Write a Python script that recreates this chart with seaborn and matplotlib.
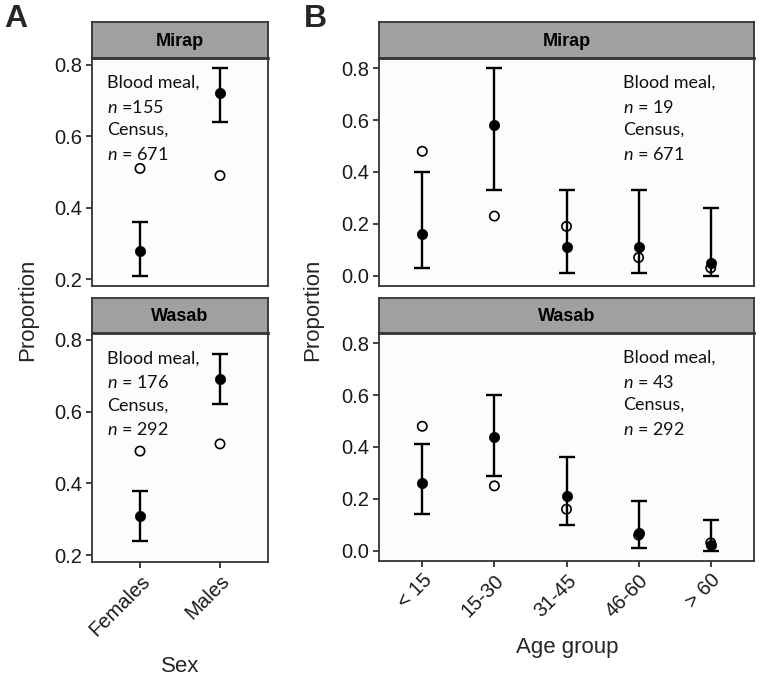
import numpy as np
import pandas as pd
import matplotlib
matplotlib.use('Agg')
import matplotlib.pyplot as plt
import seaborn as sns

# Panel A: sex
sex_labels = ['Females', 'Males']
mirap_sex_blood = [0.28, 0.72]
mirap_sex_lo = [0.21, 0.64]
mirap_sex_hi = [0.36, 0.79]
mirap_sex_census = [0.51, 0.49]
wasab_sex_blood = [0.31, 0.69]
wasab_sex_lo = [0.24, 0.62]
wasab_sex_hi = [0.38, 0.76]
wasab_sex_census = [0.49, 0.51]

# Panel B: age group
age_labels = ['< 15', '15-30', '31-45', '46-60', '> 60']
mirap_age_blood = [0.16, 0.58, 0.11, 0.11, 0.05]
mirap_age_lo = [0.03, 0.33, 0.01, 0.01, 0.00]
mirap_age_hi = [0.40, 0.80, 0.33, 0.33, 0.26]
mirap_age_census = [0.48, 0.23, 0.19, 0.07, 0.03]
wasab_age_blood = [0.26, 0.44, 0.21, 0.07, 0.02]
wasab_age_lo = [0.14, 0.29, 0.10, 0.01, 0.00]
wasab_age_hi = [0.41, 0.60, 0.36, 0.19, 0.12]
wasab_age_census = [0.48, 0.25, 0.16, 0.06, 0.03]

notes = {
    ('A', 'Mirap'): ['Blood meal,', r'$\it{n}$ =155', 'Census,', r'$\it{n}$ = 671'],
    ('A', 'Wasab'): ['Blood meal,', r'$\it{n}$ = 176', 'Census,', r'$\it{n}$ = 292'],
    ('B', 'Mirap'): ['Blood meal,', r'$\it{n}$ = 19', 'Census,', r'$\it{n}$ = 671'],
    ('B', 'Wasab'): ['Blood meal,', r'$\it{n}$ = 43', 'Census,', r'$\it{n}$ = 292'],
}

sns.set_style('white')
plt.rcParams['font.family'] = ['Liberation Sans', 'DejaVu Sans']
plt.rcParams['mathtext.fontset'] = 'custom'
plt.rcParams['mathtext.it'] = 'Lato:italic'
plt.rcParams['mathtext.rm'] = 'Lato'

W, H = 760, 681
fig = plt.figure(figsize=(W / 100, H / 100), dpi=100)
fig.patch.set_facecolor('white')


def rect(l, t, r, b):
    return [l / W, 1 - b / H, (r - l) / W, (b - t) / H]


def make_df(labels, blood, lo, hi, census):
    return pd.DataFrame({'x': np.arange(len(labels)), 'blood': blood,
                         'lo': lo, 'hi': hi, 'census': census})


dark = '#333333'


def draw_panel(df, plot_box, strip_box, title, ylim, yticks, labels, show_x, note, note_x):
    ax = fig.add_axes(rect(*plot_box))
    ax.set_facecolor('#fcfcfc')
    n = len(df)
    ax.errorbar(df['x'], df['blood'], yerr=[df['blood'] - df['lo'], df['hi'] - df['blood']],
                fmt='none', ecolor='black', elinewidth=1.7, capsize=5.5, capthick=1.7, zorder=2)
    sns.scatterplot(data=df, x='x', y='blood', ax=ax, color='black', s=55,
                    edgecolor='black', linewidth=0.5, zorder=3, legend=False)
    sns.scatterplot(data=df, x='x', y='census', ax=ax, facecolor='none', s=45,
                    edgecolor='black', linewidth=1.2, zorder=4, legend=False)
    ax.set_xlim(-0.6, n - 1 + 0.6)
    ax.set_ylim(*ylim)
    ax.set_yticks(yticks)
    ax.set_yticklabels([f'{t:.1f}' for t in yticks], fontsize=14.5, color='#1a1a1a')
    ax.set_xticks(df['x'])
    if show_x:
        ax.set_xticklabels(labels, rotation=45, ha='right', rotation_mode='anchor',
                           fontsize=14.5, color='#1a1a1a')
    else:
        ax.set_xticklabels([])
        ax.tick_params(axis='x', length=0)
    ax.tick_params(axis='both', direction='out', length=4, width=1.3, color=dark, pad=3)
    ax.tick_params(axis='y', left=True)
    ax.tick_params(axis='x', bottom=show_x)
    ax.set_xlabel('')
    ax.set_ylabel('')
    for sp in ax.spines.values():
        sp.set_color(dark)
        sp.set_linewidth(1.3)
    for i, line in enumerate(note):
        ax.text(note_x, 0.925 - i * 0.103, line, transform=ax.transAxes,
                fontsize=13, family='Lato', va='top', ha='left', color='#111111')

    sax = fig.add_axes(rect(*strip_box))
    sax.set_facecolor('#a0a0a0')
    sax.set_xticks([])
    sax.set_yticks([])
    for sp in sax.spines.values():
        sp.set_color(dark)
        sp.set_linewidth(1.3)
    sax.spines['bottom'].set_linewidth(2.0)
    sax.text(0.5, 0.47, title, transform=sax.transAxes, ha='center', va='center',
             fontsize=13, fontweight='bold', color='black')
    return ax


ylim_a = (0.181, 0.819)
yt_a = [0.2, 0.4, 0.6, 0.8]
ylim_b = (-0.04, 0.84)
yt_b = [0.0, 0.2, 0.4, 0.6, 0.8]

draw_panel(make_df(sex_labels, mirap_sex_blood, mirap_sex_lo, mirap_sex_hi, mirap_sex_census),
           (92, 58, 268, 286), (92, 22, 268, 58), 'Mirap', ylim_a, yt_a, sex_labels,
           False, notes[('A', 'Mirap')], 0.085)
draw_panel(make_df(sex_labels, wasab_sex_blood, wasab_sex_lo, wasab_sex_hi, wasab_sex_census),
           (92, 333, 268, 562), (92, 298, 268, 333), 'Wasab', ylim_a, yt_a, sex_labels,
           True, notes[('A', 'Wasab')], 0.085)
draw_panel(make_df(age_labels, mirap_age_blood, mirap_age_lo, mirap_age_hi, mirap_age_census),
           (379, 58, 754, 286), (379, 22, 754, 58), 'Mirap', ylim_b, yt_b, age_labels,
           False, notes[('B', 'Mirap')], 0.65)
draw_panel(make_df(age_labels, wasab_age_blood, wasab_age_lo, wasab_age_hi, wasab_age_census),
           (379, 333, 754, 561), (379, 298, 754, 333), 'Wasab', ylim_b, yt_b, age_labels,
           True, notes[('B', 'Wasab')], 0.65)

# axis titles and panel letters
fig.text(28 / W, 1 - 310 / H, 'Proportion', rotation=90, ha='center', va='center', fontsize=16)
fig.text(313 / W, 1 - 310 / H, 'Proportion', rotation=90, ha='center', va='center', fontsize=16)
fig.text(180 / W, 1 - 667 / H, 'Sex', ha='center', va='center', fontsize=16)
fig.text(567 / W, 1 - 647 / H, 'Age group', ha='center', va='center', fontsize=16)
fig.text(4 / W, 1 - 4 / H, 'A', ha='left', va='top', fontsize=23, fontweight='bold')
fig.text(304 / W, 1 - 4 / H, 'B', ha='left', va='top', fontsize=23, fontweight='bold')

fig.savefig('out.png', dpi=100, facecolor='white')
